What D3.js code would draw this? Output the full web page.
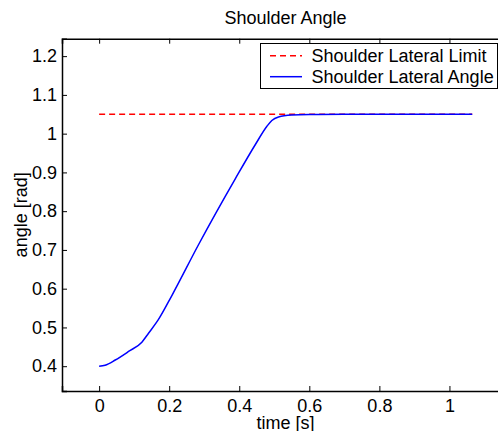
<!DOCTYPE html>
<html>
<head>
<meta charset="utf-8">
<script src="https://cdn.jsdelivr.net/npm/d3@7"></script>
<style>
  body { margin: 0; background: #fff; }
  svg { display: block; font-family: "Liberation Sans", Arial, Helvetica, sans-serif; }
</style>
</head>
<body>
<div class="chart-container"></div>
<script>
// values
var time = [0, 0.017, 0.046, 0.084, 0.122, 0.141, 0.169, 0.208, 0.284, 0.389, 0.446, 0.479, 0.493, 0.512, 0.55, 0.6, 0.7, 0.8, 0.9, 1.0, 1.065];
var angle = [0.4, 0.4026, 0.416, 0.438, 0.462, 0.485, 0.52, 0.583, 0.714, 0.884, 0.972, 1.019, 1.034, 1.043, 1.048, 1.0495, 1.05, 1.05, 1.05, 1.05, 1.05];
var limitTime = [0, 1.065];
var limitValue = [1.05, 1.05];
var xTicks = [0, 0.2, 0.4, 0.6, 0.8, 1];
var yTicks = [0.4, 0.5, 0.6, 0.7, 0.8, 0.9, 1, 1.1, 1.2];
var xLim = [-0.106, 1.17];
var yLim = [0.336, 1.245];
var legendLabels = ['Shoulder Lateral Limit', 'Shoulder Lateral Angle'];

var width = 498, height = 431;
var box = {left: 62, right: 509, top: 38.7, bottom: 391};

var svg = d3.select('.chart-container').append('svg')
    .attr('width', width)
    .attr('height', height);

var x = d3.scaleLinear().domain(xLim).range([box.left, box.right]);
var y = d3.scaleLinear().domain(yLim).range([box.bottom, box.top]);

var fmt = function (d) { return d3.format('~g')(d); };

// axes (ticks point inward, like matlab)
svg.append('g')
    .attr('class', 'x axis')
    .attr('transform', 'translate(0,' + box.bottom + ')')
    .call(d3.axisBottom(x).tickValues(xTicks).tickFormat(fmt).tickSize(-5).tickPadding(8.5));
svg.append('g')
    .attr('class', 'x2 axis')
    .attr('transform', 'translate(0,' + box.top + ')')
    .call(d3.axisTop(x).tickValues(xTicks).tickFormat('').tickSize(-5));
svg.append('g')
    .attr('class', 'y axis')
    .attr('transform', 'translate(' + box.left + ',0)')
    .call(d3.axisLeft(y).tickValues(yTicks).tickFormat(fmt).tickSize(-5).tickPadding(5));
svg.append('g')
    .attr('class', 'y2 axis')
    .attr('transform', 'translate(' + box.right + ',0)')
    .call(d3.axisRight(y).tickValues(yTicks).tickFormat('').tickSize(-5));

svg.selectAll('.axis path').attr('stroke', '#000').attr('stroke-width', 1.5);
svg.selectAll('.axis line').attr('stroke', '#000').attr('stroke-width', 1);
svg.selectAll('.axis text').attr('font-size', 18).attr('fill', '#000')
    .attr('font-family', '"Liberation Sans", Arial, sans-serif');
svg.selectAll('.x.axis text').attr('dy', '0.71em');

// lines
var limitData = limitTime.map(function (t, i) { return [t, limitValue[i]]; });
var angleData = time.map(function (t, i) { return [t, angle[i]]; });

svg.append('path')
    .datum(limitData)
    .attr('fill', 'none')
    .attr('stroke', '#ff0000')
    .attr('stroke-width', 1.5)
    .attr('stroke-dasharray', '6,4')
    .attr('d', d3.line().x(function (d) { return x(d[0]); }).y(function (d) { return y(d[1]); }));

svg.append('path')
    .datum(angleData)
    .attr('fill', 'none')
    .attr('stroke', '#0000ff')
    .attr('stroke-width', 1.5)
    .attr('d', d3.line().curve(d3.curveMonotoneX)
      .x(function (d) { return x(d[0]); }).y(function (d) { return y(d[1]); }));

// title and labels
var cx = (box.left + box.right) / 2;
svg.append('text')
    .attr('x', cx).attr('y', 24)
    .attr('text-anchor', 'middle')
    .attr('font-size', 18)
    .text('Shoulder Angle');
svg.append('text')
    .attr('x', cx).attr('y', 429)
    .attr('text-anchor', 'middle')
    .attr('font-size', 18)
    .text('time [s]');
svg.append('text')
    .attr('transform', 'translate(27,' + ((box.top + box.bottom) / 2) + ') rotate(-90)')
    .attr('text-anchor', 'middle')
    .attr('font-size', 18)
    .text('angle [rad]');

// legend
var legend = svg.append('g').attr('class', 'legend');
legend.append('rect')
    .attr('x', 260.5).attr('y', 43.5)
    .attr('width', 237).attr('height', 45)
    .attr('fill', '#fff')
    .attr('stroke', '#000')
    .attr('stroke-width', 1);
var styles = [{c: '#ff0000', dash: '6,4'}, {c: '#0000ff', dash: null}];
legendLabels.forEach(function (lab, i) {
  var ly = 55.7 + i * 21;
  legend.append('line')
      .attr('x1', 270).attr('x2', 302)
      .attr('y1', ly).attr('y2', ly)
      .attr('stroke', styles[i].c)
      .attr('stroke-width', 1.5)
      .attr('stroke-dasharray', styles[i].dash);
  legend.append('text')
      .attr('x', 311.5).attr('y', ly + 6)
      .attr('font-size', 18)
      .text(lab);
});
</script>
</body>
</html>
